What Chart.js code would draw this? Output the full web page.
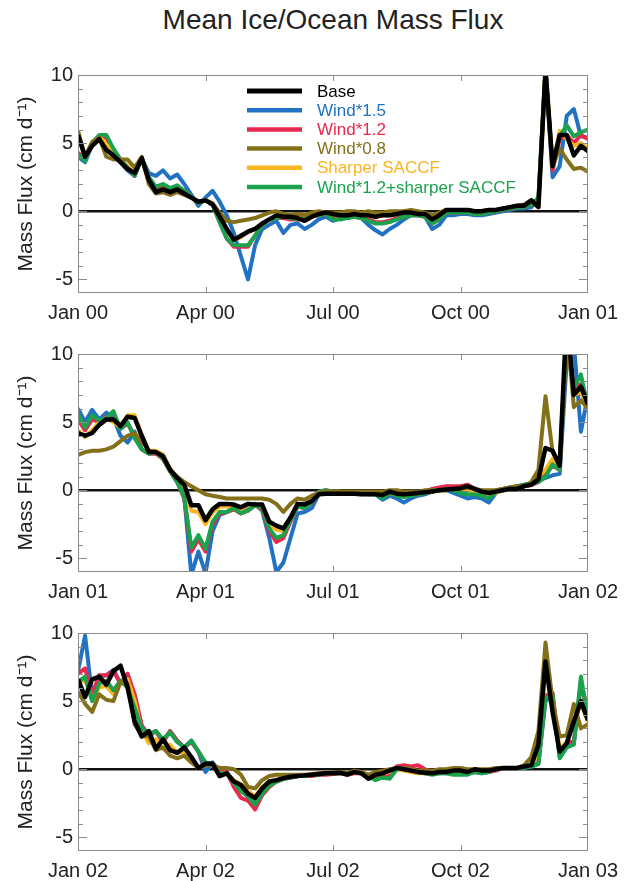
<!DOCTYPE html>
<html>
<head>
<meta charset="utf-8">
<script src="https://cdn.jsdelivr.net/npm/chart.js@4.4.1/dist/chart.umd.min.js"></script>
<style>
  html, body { margin: 0; padding: 0; background: #fff; width: 629px; height: 881px; overflow: hidden; }
  #title { position: absolute; left: 0; width: 666px; top: 4px; text-align: center;
           font: 28px "Liberation Sans", Arial, sans-serif; color: #222; }
  canvas { position: absolute; left: 0; }
</style>
</head>
<body>
<div id="title">Mean Ice/Ocean Mass Flux</div>
<canvas id="p0" width="629" height="268" style="top:55px"></canvas>
<canvas id="p1" width="629" height="268" style="top:334px"></canvas>
<canvas id="p2" width="629" height="268" style="top:613px"></canvas>
<script>
// Five-day (pentad) means of ice/ocean mass flux, cm per day, one row per year.
const pentad = [...Array(73).keys()];

const seriesNames = ['Base', 'Wind*1.5', 'Wind*1.2', 'Wind*0.8', 'Sharper SACCF', 'Wind*1.2+sharper SACCF'];
const seriesColors = ['#000000', '#2272c3', '#e8284e', '#85701a', '#fbb51e', '#1aa24c'];

const xTickPositions = [0, 18, 36, 54, 72];
const xTickLabels = [
  ['Jan 00', 'Apr 00', 'Jul 00', 'Oct 00', 'Jan 01'],
  ['Jan 01', 'Apr 01', 'Jul 01', 'Oct 01', 'Jan 02'],
  ['Jan 02', 'Apr 02', 'Jul 02', 'Oct 02', 'Jan 03']
];
const yTickValues = [-5, 0, 5, 10];
const yMinorTicks = [-5, -4, -3, -2, -1, 0, 1, 2, 3, 4, 5, 6, 7, 8, 9];

// ---- 2000 ----
const base2000 = [
  5.6,4.0,4.8,5.3,4.5,4.1,3.6,3.1,2.8,3.9,2.3,1.4,
  1.6,1.4,1.6,1.3,1.0,0.7,0.8,0.5,-0.4,-1.3,-2.1,-1.8,
  -1.5,-1.3,-0.9,-0.6,-0.3,-0.4,-0.4,-0.5,-0.7,-0.4,-0.2,-0.1,
  -0.2,-0.3,-0.3,-0.2,-0.3,-0.3,-0.4,-0.3,-0.3,-0.2,-0.1,-0.1,
  -0.2,-0.2,-0.6,-0.3,0.1,0.1,0.1,0.1,0.0,0.0,0.1,0.1,
  0.2,0.3,0.4,0.4,0.8,0.3,10.4,3.3,5.6,5.6,4.1,4.8,
  4.4];
const wind15_2000 = [
  4.0,3.6,4.9,5.4,4.8,4.2,3.6,3.0,2.6,3.9,2.8,2.6,
  3.0,2.4,2.7,2.0,1.2,0.4,1.0,1.5,0.7,-0.3,-1.6,-3.3,
  -5.0,-2.5,-1.3,-1.0,-0.7,-1.6,-1.0,-0.9,-1.3,-1.0,-0.6,-0.4,
  -0.7,-0.5,-0.4,-0.3,-0.5,-1.0,-1.4,-1.7,-1.3,-1.0,-0.6,-0.3,
  -0.3,-0.4,-1.3,-1.0,-0.3,-0.3,-0.2,-0.2,-0.3,-0.3,-0.2,-0.1,
  0.0,0.1,0.2,0.2,0.3,0.9,10.4,2.5,3.3,7.0,7.5,5.5,
  5.4];
const wind12_2000 = [
  4.3,3.8,5.0,5.5,5.4,4.5,3.8,3.2,2.6,3.9,2.4,1.7,
  1.9,1.6,1.8,1.5,1.1,0.6,0.8,0.5,-0.8,-2.0,-2.6,-2.6,
  -2.6,-1.8,-1.0,-0.6,-0.5,-0.5,-0.6,-0.6,-0.6,-0.4,-0.3,-0.2,
  -0.5,-0.5,-0.5,-0.4,-0.5,-0.6,-0.8,-0.8,-0.7,-0.5,-0.4,-0.3,
  -0.3,-0.4,-0.9,-0.6,-0.1,-0.1,-0.1,-0.1,-0.2,-0.2,-0.1,0.0,
  0.1,0.2,0.3,0.3,0.5,0.8,10.4,3.0,5.3,5.6,5.0,5.6,
  5.3];
const wind08_2000 = [
  5.9,4.0,5.1,5.4,4.0,3.8,3.8,3.8,3.2,4.0,2.0,1.3,
  1.4,1.2,1.4,1.2,1.0,0.7,0.8,0.6,-0.1,-0.7,-0.8,-0.7,
  -0.6,-0.5,-0.3,-0.1,0.0,-0.2,-0.3,-0.2,-0.3,-0.1,0.0,-0.1,
  -0.1,-0.1,0.0,0.0,-0.1,0.0,-0.1,-0.1,0.0,0.0,0.0,0.1,
  0.0,-0.1,-0.3,-0.1,0.1,0.1,0.1,0.1,0.0,0.0,0.1,0.1,
  0.2,0.3,0.4,0.5,0.8,0.4,10.4,3.3,4.6,3.8,3.1,3.2,
  2.9];
const saccf2000 = [
  5.8,3.9,5.0,5.5,4.9,4.5,3.8,3.3,2.8,3.9,2.2,1.4,
  1.6,1.4,1.6,1.3,1.0,0.7,0.8,0.5,-0.5,-1.4,-2.1,-1.9,
  -1.5,-1.3,-0.9,-0.6,-0.4,-0.4,-0.4,-0.5,-0.6,-0.4,-0.2,-0.1,
  -0.2,-0.3,-0.3,-0.2,-0.3,-0.3,-0.4,-0.3,-0.3,-0.2,-0.1,-0.1,
  -0.2,-0.2,-0.5,-0.3,0.1,0.1,0.1,0.1,0.0,0.0,0.1,0.1,
  0.2,0.3,0.4,0.4,0.8,0.3,10.4,3.3,5.9,5.3,4.8,5.0,
  4.6];
const wind12saccf2000 = [
  4.2,3.7,5.0,5.6,5.6,4.6,3.8,3.2,2.6,3.9,2.5,1.8,
  2.0,1.7,1.9,1.5,1.1,0.6,0.8,0.5,-0.8,-2.0,-2.5,-2.5,
  -2.5,-1.8,-1.0,-0.6,-0.5,-0.4,-0.5,-0.6,-0.5,-0.3,-0.3,-0.2,
  -0.6,-0.6,-0.5,-0.4,-0.5,-0.7,-0.9,-0.9,-0.8,-0.6,-0.4,-0.3,
  -0.3,-0.4,-0.9,-0.6,-0.1,-0.1,-0.1,-0.1,-0.2,-0.2,-0.1,0.0,
  0.1,0.2,0.3,0.3,0.5,1.0,10.4,3.3,5.5,6.3,5.5,5.8,
  6.0];

// ---- 2001 ----
const base2001 = [
  4.2,4.0,4.2,4.8,5.2,5.2,4.7,5.4,5.3,4.0,2.8,2.8,
  2.5,1.5,0.9,0.4,-1.1,-1.1,-2.2,-1.4,-1.0,-1.0,-1.05,-1.25,
  -1.0,-1.05,-1.05,-2.3,-2.6,-2.8,-2.0,-1.0,-1.05,-0.8,-0.3,-0.25,
  -0.25,-0.25,-0.25,-0.25,-0.3,-0.3,-0.3,-0.35,-0.1,-0.25,-0.3,-0.25,
  -0.2,-0.15,-0.1,0.0,0.05,0.1,0.15,0.3,0.1,-0.1,-0.2,-0.1,
  0.0,0.1,0.1,0.3,0.4,0.8,3.1,2.9,1.8,13.0,7.0,7.6,
  6.3];
const wind15_2001 = [
  6.0,5.0,5.9,5.2,5.7,5.3,4.0,3.5,4.3,3.0,2.7,2.7,
  2.6,1.4,0.7,-0.5,-6.2,-4.5,-6.1,-3.0,-1.8,-1.6,-1.3,-1.5,
  -1.2,-1.0,-1.5,-3.5,-6.0,-5.3,-3.5,-1.7,-1.6,-1.3,-0.3,-0.1,
  -0.2,-0.2,-0.2,-0.2,-0.2,-0.3,-0.3,-0.7,-0.4,-0.6,-0.9,-0.6,
  -0.4,-0.3,-0.1,0.0,0.0,-0.2,-0.4,-0.6,-0.5,-0.6,-0.9,-0.2,
  0.1,0.2,0.3,0.4,0.5,0.7,0.9,1.1,1.2,9.5,10.8,4.3,
  7.0];
const wind12_2001 = [
  5.2,4.4,5.2,5.0,5.4,5.2,4.5,4.9,4.0,3.0,2.7,2.7,
  2.3,1.4,0.6,-0.6,-4.5,-3.6,-4.5,-2.5,-1.7,-1.6,-1.4,-1.7,
  -1.5,-1.1,-1.4,-3.0,-3.8,-3.5,-2.3,-1.2,-1.3,-0.9,-0.1,0.0,
  -0.1,-0.1,-0.2,-0.2,-0.2,-0.2,-0.2,-0.5,-0.2,-0.4,-0.4,-0.3,
  -0.3,-0.1,0.1,0.2,0.3,0.3,0.3,0.4,0.1,-0.1,-0.3,0.0,
  0.1,0.2,0.2,0.3,0.4,0.6,1.2,1.8,1.5,11.0,7.3,7.8,
  6.6];
const wind08_2001 = [
  2.6,2.8,2.9,2.9,3.0,3.2,3.6,4.0,4.2,3.6,2.9,2.8,
  2.4,1.5,1.0,0.6,0.3,0.0,-0.3,-0.4,-0.5,-0.6,-0.6,-0.6,
  -0.6,-0.6,-0.6,-0.7,-1.0,-1.6,-1.0,-0.6,-0.7,-0.4,-0.2,-0.1,
  -0.1,-0.1,-0.1,-0.1,-0.1,-0.1,-0.1,-0.1,0.0,0.0,-0.1,-0.1,
  -0.1,0.0,0.0,0.0,0.0,0.1,0.1,0.2,0.1,0.0,0.0,0.0,
  0.1,0.2,0.3,0.3,0.6,1.5,6.9,2.8,1.8,12.0,6.1,6.6,
  6.0];
const saccf2001 = [
  4.4,3.9,4.4,5.0,5.3,5.0,4.6,5.5,5.5,4.0,2.9,2.9,
  2.6,1.6,0.9,0.3,-1.5,-1.6,-2.5,-1.6,-1.2,-1.2,-1.2,-1.4,
  -1.1,-1.1,-1.2,-2.5,-2.9,-3.0,-2.1,-1.1,-1.1,-0.8,-0.3,-0.2,
  -0.2,-0.2,-0.2,-0.2,-0.3,-0.3,-0.3,-0.4,-0.2,-0.3,-0.3,-0.3,
  -0.2,-0.2,-0.1,0.0,0.0,0.1,0.1,0.1,-0.1,-0.3,-0.4,-0.2,
  0.0,0.1,0.1,0.3,0.5,1.0,1.5,2.3,1.8,12.0,7.0,7.2,
  5.9];
const wind12saccf2001 = [
  5.6,4.6,5.5,5.1,5.3,5.8,4.5,5.0,3.8,3.0,2.7,2.8,
  2.3,1.4,0.6,-0.5,-4.2,-3.3,-4.3,-2.3,-1.6,-1.6,-1.3,-1.7,
  -1.5,-1.1,-1.3,-2.8,-3.5,-3.3,-2.2,-1.2,-1.3,-0.9,-0.1,0.0,
  -0.1,-0.1,-0.2,-0.2,-0.2,-0.2,-0.2,-0.6,-0.2,-0.4,-0.5,-0.4,
  -0.3,-0.2,0.0,0.0,0.1,0.0,-0.2,-0.3,-0.3,-0.4,-0.6,-0.1,
  0.1,0.2,0.3,0.4,0.5,0.6,1.0,1.9,1.5,11.0,7.5,8.5,
  6.0];

// ---- 2002 ----
const base2002 = [
  6.6,5.3,6.6,6.8,6.2,7.2,7.6,6.0,3.5,2.4,2.8,1.5,
  2.2,1.4,1.2,1.6,0.9,0.1,0.4,0.4,-0.5,-0.3,-0.9,-1.15,
  -1.8,-2.1,-1.4,-0.9,-0.8,-0.65,-0.55,-0.5,-0.45,-0.4,-0.35,-0.3,
  -0.3,-0.25,-0.4,-0.2,-0.3,-0.7,-0.4,-0.3,-0.1,0.1,0.0,-0.1,
  -0.2,-0.25,-0.3,-0.2,-0.2,-0.1,-0.1,-0.2,0.0,-0.1,-0.1,0.0,
  0.1,0.1,0.1,0.2,0.3,1.8,7.9,4.2,1.3,1.9,3.5,5.0,
  3.6];
const wind15_2002 = [
  7.2,9.8,5.4,6.8,6.9,7.3,6.3,7.0,5.2,3.2,2.5,2.8,
  2.0,2.8,2.1,1.6,2.1,1.3,-0.2,0.5,-0.2,-0.2,-1.0,-1.4,
  -2.0,-2.5,-1.8,-1.2,-0.9,-0.7,-0.6,-0.5,-0.5,-0.4,-0.4,-0.3,
  -0.3,-0.3,-0.3,-0.2,-0.3,-0.5,-0.7,-0.6,-0.6,0.0,0.1,0.0,
  -0.2,-0.3,-0.3,-0.3,-0.3,-0.3,-0.3,-0.3,-0.2,-0.3,-0.2,0.0,
  0.1,0.1,0.1,0.1,0.2,0.4,5.0,5.4,0.9,1.8,1.9,6.5,
  3.9];
const wind12_2002 = [
  7.0,7.4,5.5,6.9,6.9,7.2,6.3,7.0,5.5,3.2,2.5,2.8,
  2.0,2.8,2.1,1.6,2.0,1.3,0.4,0.4,-0.2,-0.2,-1.3,-2.1,
  -2.3,-2.95,-1.9,-1.3,-0.9,-0.7,-0.6,-0.5,-0.5,-0.5,-0.4,-0.4,
  -0.35,-0.3,-0.4,-0.3,-0.3,-0.6,-0.6,-0.6,-0.5,0.2,0.3,0.2,
  0.3,0.0,-0.2,-0.2,-0.2,-0.2,-0.2,-0.2,-0.1,-0.2,-0.2,-0.1,
  0.1,0.1,0.1,0.2,0.2,0.5,5.4,5.6,1.0,2.0,2.0,6.2,
  4.3];
const wind08_2002 = [
  5.7,4.8,4.2,5.5,5.1,5.0,6.4,6.3,3.3,2.5,2.4,1.4,
  1.6,1.0,0.8,1.0,0.5,0.1,0.3,0.3,0.1,0.1,0.0,-0.4,
  -1.3,-1.4,-0.8,-0.5,-0.4,-0.4,-0.4,-0.4,-0.4,-0.35,-0.3,-0.3,
  -0.2,-0.2,-0.3,-0.1,-0.2,-0.4,-0.2,-0.1,0.0,0.1,0.1,0.0,
  -0.1,-0.1,-0.1,0.0,0.0,0.1,0.1,0.0,0.0,0.0,0.0,0.1,
  0.1,0.1,0.1,0.3,0.9,2.8,9.3,5.0,2.4,2.5,4.8,3.0,
  3.3];
const saccf2002 = [
  6.3,6.6,5.1,6.0,6.1,5.5,6.4,6.6,5.0,2.8,1.9,2.2,
  1.5,1.8,1.2,1.3,0.9,0.1,0.4,0.3,-0.3,-0.3,-0.8,-1.1,
  -1.6,-2.0,-1.3,-0.9,-0.8,-0.65,-0.55,-0.5,-0.45,-0.4,-0.35,-0.3,
  -0.3,-0.25,-0.4,-0.2,-0.3,-0.6,-0.4,-0.3,-0.2,0.0,-0.1,-0.2,
  -0.3,-0.3,-0.3,-0.3,-0.2,-0.2,-0.2,-0.2,-0.1,-0.1,-0.1,0.0,
  0.1,0.1,0.1,0.2,0.3,1.2,7.5,5.0,1.5,2.0,3.5,4.8,
  3.5];
const wind12saccf2002 = [
  6.4,6.8,5.0,6.3,6.5,5.8,6.5,6.0,4.5,3.0,2.6,2.8,
  2.2,2.7,2.0,1.6,2.1,1.3,0.5,0.4,-0.3,-0.3,-1.0,-1.6,
  -2.0,-2.6,-1.8,-1.2,-0.9,-0.7,-0.6,-0.5,-0.5,-0.4,-0.4,-0.3,
  -0.3,-0.3,-0.3,-0.2,-0.3,-0.5,-0.8,-0.6,-0.7,0.0,0.1,0.0,
  -0.2,-0.3,-0.4,-0.3,-0.3,-0.4,-0.4,-0.4,-0.2,-0.3,-0.2,0.0,
  0.1,0.1,0.1,0.1,0.2,0.4,5.2,5.5,0.8,1.6,1.8,6.8,
  3.7];

const years = [
  [base2000, wind15_2000, wind12_2000, wind08_2000, saccf2000, wind12saccf2000],
  [base2001, wind15_2001, wind12_2001, wind08_2001, saccf2001, wind12saccf2001],
  [base2002, wind15_2002, wind12_2002, wind08_2002, saccf2002, wind12saccf2002]
];

// Draw order: Base on top, then Wind*0.8, combined run, SACCF, Wind*1.2, Wind*1.5 at the bottom.
const drawOrder = [0, 5, 4, 1, 3, 2];

const FONT = '"Liberation Sans", Arial, Helvetica, sans-serif';
const TEXT = '#222';
const FRAME = '#8c8c8c';

const framePlugin = {
  id: 'frame',
  beforeDatasetsDraw(chart) {
    const { ctx, chartArea: a, scales: { y } } = chart;
    const y0 = y.getPixelForValue(0);
    ctx.save();
    ctx.strokeStyle = '#111';
    ctx.lineWidth = 2.5;
    ctx.beginPath();
    ctx.moveTo(a.left, y0);
    ctx.lineTo(a.right, y0);
    ctx.stroke();
    ctx.restore();
  },
  afterDatasetsDraw(chart) {
    const { ctx, chartArea: a, scales: { x, y } } = chart;
    ctx.save();
    ctx.strokeStyle = FRAME;
    ctx.lineWidth = 1;
    ctx.strokeRect(a.left + 0.5, a.top + 0.5, a.right - a.left - 1, a.bottom - a.top - 1);
    ctx.beginPath();
    for (const v of yMinorTicks) {
      const py = Math.round(y.getPixelForValue(v)) + 0.5;
      const len = v % 5 === 0 ? 9 : 5;
      ctx.moveTo(a.left, py); ctx.lineTo(a.left + len, py);
      ctx.moveTo(a.right, py); ctx.lineTo(a.right - len, py);
    }
    for (const v of xTickPositions.slice(1, -1)) {
      const px = Math.round(x.getPixelForValue(v)) + 0.5;
      ctx.moveTo(px, a.top); ctx.lineTo(px, a.top + 6);
      ctx.moveTo(px, a.bottom); ctx.lineTo(px, a.bottom - 6);
    }
    ctx.stroke();
    ctx.restore();
  }
};

const insetLegend = {
  id: 'insetLegend',
  afterDatasetsDraw(chart, args, opts) {
    if (!opts.show) return;
    const { ctx, chartArea: a } = chart;
    ctx.save();
    ctx.font = '17px ' + FONT;
    ctx.textBaseline = 'middle';
    ctx.textAlign = 'left';
    seriesNames.forEach((name, k) => {
      const yy = a.top + 16 + k * 19.2;
      ctx.strokeStyle = seriesColors[k];
      ctx.lineWidth = k === 0 ? 5 : 4.5;
      ctx.beginPath();
      ctx.moveTo(a.left + 169, yy);
      ctx.lineTo(a.left + 224, yy);
      ctx.stroke();
      ctx.fillStyle = seriesColors[k];
      ctx.fillText(name, a.left + 239, yy + 1);
    });
    ctx.restore();
  }
};

years.forEach((series, p) => {
  new Chart(document.getElementById('p' + p), {
    type: 'line',
    data: {
      labels: pentad,
      datasets: series.map((values, k) => ({
        label: seriesNames[k],
        data: values,
        borderColor: seriesColors[k],
        borderWidth: k === 0 ? 4.5 : 4,
        borderJoinStyle: 'round',
        pointRadius: 0,
        tension: 0,
        fill: false,
        clip: 0,
        order: drawOrder[k]
      }))
    },
    options: {
      responsive: false,
      animation: false,
      devicePixelRatio: 1,
      layout: { padding: { left: 0, right: 41, top: 20, bottom: 0 } },
      plugins: {
        legend: { display: false },
        tooltip: { enabled: false },
        insetLegend: { show: p === 0 }
      },
      scales: {
        x: {
          type: 'linear',
          min: 0,
          max: 72,
          afterBuildTicks: s => { s.ticks = xTickPositions.map(v => ({ value: v })); },
          afterFit: s => { s.height = 30; },
          grid: { display: false, drawTicks: false },
          border: { display: false },
          ticks: {
            autoSkip: false,
            maxRotation: 0,
            padding: 8,
            color: TEXT,
            font: { family: FONT, size: 20 },
            callback: (v, i) => xTickLabels[p][i]
          }
        },
        y: {
          min: -6,
          max: 10,
          afterBuildTicks: s => { s.ticks = yTickValues.map(v => ({ value: v })); },
          afterFit: s => { s.width = 78; },
          grid: { display: false, drawTicks: false },
          border: { display: false },
          ticks: {
            padding: 5,
            color: TEXT,
            font: { family: FONT, size: 20 }
          },
          title: {
            display: true,
            text: 'Mass Flux (cm d\u207B\u00B9)',
            color: TEXT,
            font: { family: FONT, size: 21 },
            padding: { top: 14, bottom: 0 }
          }
        }
      }
    },
    plugins: [framePlugin, insetLegend]
  });
});
</script>
</body>
</html>
